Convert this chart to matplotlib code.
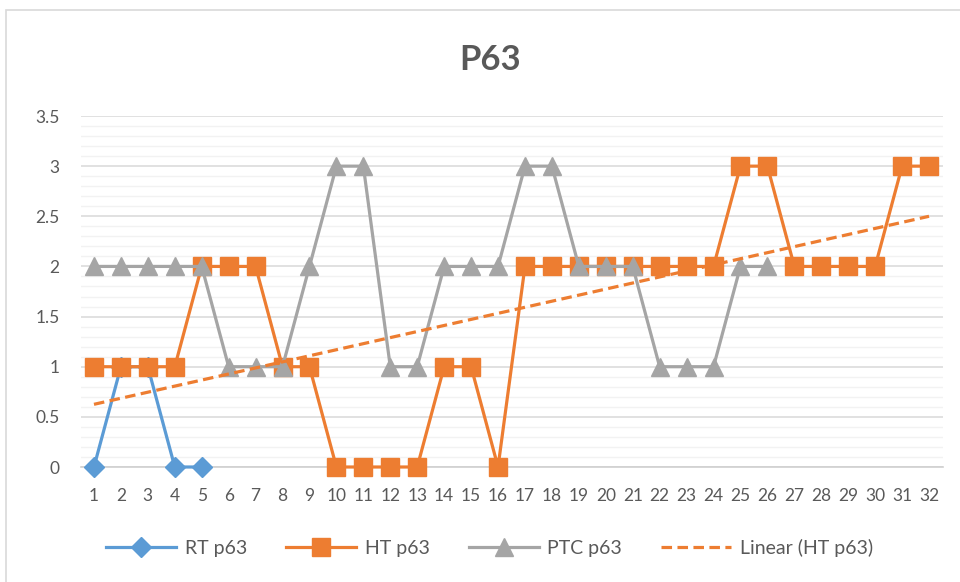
import numpy as np
import matplotlib.pyplot as plt
from matplotlib.patches import Rectangle

plt.rcParams['font.family'] = ['Lato', 'DejaVu Sans']

samples = list(range(1, 33))
rt_x = [1, 2, 3, 4, 5]
rt_p63 = [0, 1, 1, 0, 0]
ht_p63 = [1, 1, 1, 1, 2, 2, 2, 1, 1, 0, 0, 0, 0, 1, 1, 0,
          2, 2, 2, 2, 2, 2, 2, 2, 3, 3, 2, 2, 2, 2, 3, 3]
ptc_x = list(range(1, 27))
ptc_p63 = [2, 2, 2, 2, 2, 1, 1, 1, 2, 3, 3, 1, 1, 2, 2, 2,
           3, 3, 2, 2, 2, 1, 1, 1, 2, 2]
y_ticks = [0, 0.5, 1, 1.5, 2, 2.5, 3, 3.5]
y_labels = ['0', '0.5', '1', '1.5', '2', '2.5', '3', '3.5']

blue = '#5B9BD5'
orange = '#ED7D31'
gray = '#A5A5A5'
text_col = '#595959'

fig = plt.figure(figsize=(9.6, 5.82), dpi=100)
ax = fig.add_axes([80.5 / 960, 115 / 582, 862 / 960, 351 / 582])

# light frame around the chart area
fig.patches.append(Rectangle((6 / 960, -0.05), 1.2, 1 - 10 / 582 + 0.05,
                             transform=fig.transFigure, fill=False,
                             edgecolor='#D9D9D9', linewidth=1.2))

ax.plot(rt_x, rt_p63, color=blue, lw=2.3, marker='D', ms=10,
        label='RT p63', zorder=3, clip_on=False)
ax.plot(samples, ht_p63, color=orange, lw=2.3, marker='s', ms=13,
        label='HT p63', zorder=4, clip_on=False)
ax.plot(ptc_x, ptc_p63, color=gray, lw=2.3, marker='^', ms=13,
        label='PTC p63', zorder=5, clip_on=False)

# linear trend of HT p63
slope, icpt = np.polyfit(samples, ht_p63, 1)
xs = np.array([samples[0], samples[-1]])
ax.plot(xs, slope * xs + icpt, color=orange, lw=2.3, ls=(0, (3.3, 1.7)),
        dash_capstyle='butt', label='Linear (HT p63)', zorder=6)

ax.set_xlim(0.5, 32.5)
ax.set_ylim(0, 3.5)
ax.set_xticks(samples)
ax.set_xticklabels([str(s) for s in samples])
ax.set_yticks(y_ticks)
ax.set_yticklabels(y_labels)
ax.set_yticks(np.arange(0, 3.51, 0.1), minor=True)

ax.grid(which='major', axis='y', color='#D9D9D9', lw=1.1, zorder=0)
ax.grid(which='minor', axis='y', color='#F2F2F2', lw=1.0, zorder=0)
ax.set_axisbelow(True)
for side in ['top', 'right', 'left']:
    ax.spines[side].set_visible(False)
ax.spines['bottom'].set_color('#D0D0D0')
ax.spines['bottom'].set_linewidth(1.2)
ax.tick_params(axis='both', which='both', length=0, colors=text_col,
               labelsize=12.5)
ax.tick_params(axis='x', pad=15)
ax.tick_params(axis='y', pad=15)

fig.text(0.51, 1 - 60 / 582, 'P63', ha='center', va='center',
         fontsize=25, fontweight='bold', color=text_col)

leg = fig.legend(loc='center', bbox_to_anchor=(0.51, 1 - 548 / 582), ncol=4,
                 frameon=False, fontsize=14, handlelength=3.6,
                 handletextpad=0.45, columnspacing=2.0)
for t in leg.get_texts():
    t.set_color(text_col)

fig.savefig('out.png', dpi=100)
